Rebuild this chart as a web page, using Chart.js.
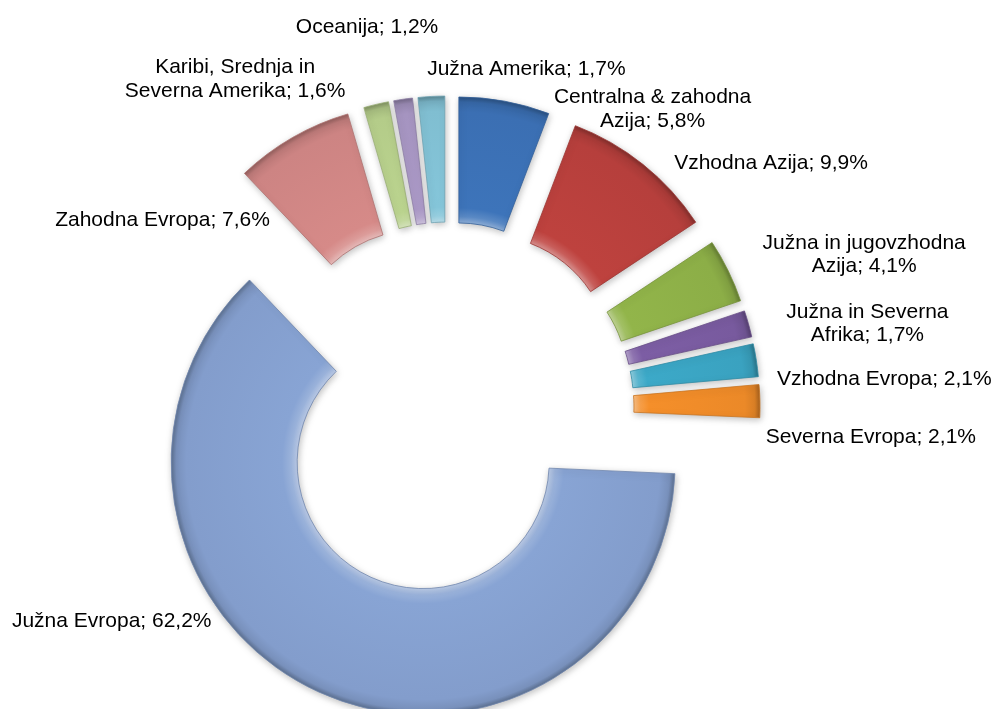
<!DOCTYPE html>
<html>
<head>
<meta charset="utf-8">
<script src="https://cdn.jsdelivr.net/npm/chart.js@4/dist/chart.umd.min.js"></script>
<style>
  html, body { margin: 0; padding: 0; background: #ffffff; }
  #wrap { width: 997px; height: 709px; position: relative; }
</style>
</head>
<body>
<div id="wrap"><canvas id="c"></canvas></div>
<script>
// ---- data ----
const categories = [
  'Centralna & zahodna\nAzija',
  'Vzhodna Azija',
  'Južna in jugovzhodna\nAzija',
  'Južna in Severna\nAfrika',
  'Vzhodna Evropa',
  'Severna Evropa',
  'Južna Evropa',
  'Zahodna Evropa',
  'Karibi, Srednja in\nSeverna Amerika',
  'Oceanija',
  'Južna Amerika'
];
const shares = [5.8, 9.9, 4.1, 1.7, 2.1, 2.1, 62.2, 7.6, 1.6, 1.2, 1.7];

// ---- styles ----
const colors = ['#3D74BA', '#BE423E', '#92B54A', '#7D5EA5', '#3CA9C8', '#F58F2A',
                '#88A4D4', '#D68A88', '#BBD48F', '#AC9AC8', '#85C6DA'];
// label position nudges relative to the exploded outer mid-point of each slice
const labelNudges = [[148, 8], [128, -1], [136, -16], [119, 0], [128, 19], [111, 36],
                     [-207, -71], [-130, 83], [-141, -25], [-36, -72], [95, -27]];
const FONT = '21px "Liberation Sans", Arial, sans-serif';
const LINE_H = 23.5;
const EXPLODE = 60; // explosion distance of every slice, px

function hexToRgb(h) {
  const n = parseInt(h.slice(1), 16);
  return [(n >> 16) & 255, (n >> 8) & 255, n & 255];
}
function mix(h, target, t) {
  const a = hexToRgb(h), b = hexToRgb(target);
  const c = a.map((v, i) => Math.round(v + (b[i] - v) * t));
  return 'rgb(' + c.join(',') + ')';
}
function fmt(v) { return v.toFixed(1).replace('.', ',') + '%'; }

const explodePlugin = {
  id: 'explode',
  beforeDatasetsDraw(chart) {
    const meta = chart.getDatasetMeta(0);
    const area = chart.chartArea;
    const cx = (area.left + area.right) / 2;
    const cy = (area.top + area.bottom) / 2;
    const ctx = chart.ctx;
    meta.data.forEach((arc, i) => {
      const mid = (arc.startAngle + arc.endAngle) / 2;
      arc.x = cx + Math.cos(mid) * EXPLODE;
      arc.y = cy + Math.sin(mid) * EXPLODE;
      const ri = arc.innerRadius, ro = arc.outerRadius;
      const g = ctx.createRadialGradient(arc.x, arc.y, ri, arc.x, arc.y, ro);
      const base = colors[i];
      g.addColorStop(0, mix(base, '#ffffff', 0.42));
      g.addColorStop(0.05, mix(base, '#ffffff', 0.15));
      g.addColorStop(0.12, base);
      g.addColorStop(0.88, mix(base, '#000000', 0.04));
      g.addColorStop(0.96, mix(base, '#000000', 0.12));
      g.addColorStop(1, mix(base, '#000000', 0.32));
      arc.options.backgroundColor = g;
      arc.options.borderColor = mix(base, '#000000', 0.18);
    });
    ctx.save();
    ctx.shadowColor = 'rgba(0,0,0,0.25)';
    ctx.shadowBlur = 7;
    ctx.shadowOffsetX = 1;
    ctx.shadowOffsetY = 2;
  },
  afterDatasetsDraw(chart) {
    const ctx = chart.ctx;
    ctx.restore();
    const meta = chart.getDatasetMeta(0);
    ctx.save();
    ctx.font = FONT;
    ctx.fillStyle = '#000000';
    ctx.textAlign = 'center';
    ctx.textBaseline = 'middle';
    meta.data.forEach((arc, i) => {
      const mid = (arc.startAngle + arc.endAngle) / 2;
      const ax = arc.x + Math.cos(mid) * arc.outerRadius + labelNudges[i][0];
      const ay = arc.y + Math.sin(mid) * arc.outerRadius + labelNudges[i][1];
      const lines = (categories[i] + '; ' + fmt(shares[i])).split('\n');
      lines.forEach((ln, k) => {
        ctx.fillText(ln, ax, ay + (k - (lines.length - 1) / 2) * LINE_H);
      });
    });
    ctx.restore();
  }
};

new Chart(document.getElementById('c'), {
  type: 'doughnut',
  data: {
    labels: categories,
    datasets: [{
      data: shares,
      backgroundColor: colors,
      borderColor: colors,
      borderWidth: 0.8,
      offset: 0,
      hoverOffset: 0,
      radius: 252,
      cutout: '50%',
      clip: false
    }]
  },
  options: {
    responsive: true,
    maintainAspectRatio: false,
    animation: false,
    events: [],
    layout: { padding: { left: 0, right: 101, top: 107, bottom: 0 } },
    plugins: { legend: { display: false }, tooltip: { enabled: false } }
  },
  plugins: [explodePlugin]
});
</script>
</body>
</html>
